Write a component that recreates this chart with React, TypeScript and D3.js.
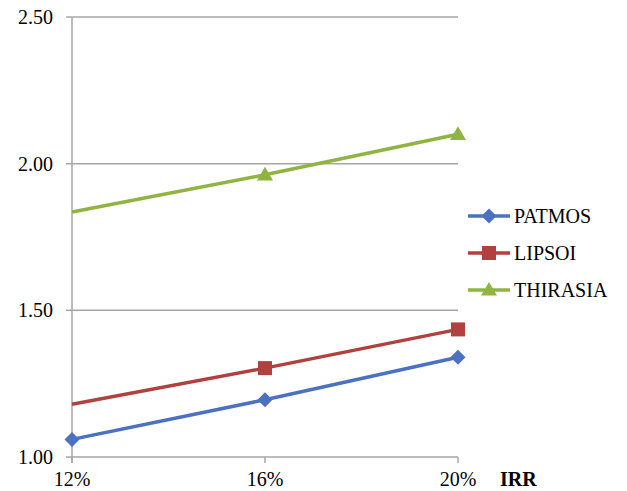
import React from "react";
import * as d3 from "d3";

const categories = ["12%", "16%", "20%"];
const yTicks = [1.0, 1.5, 2.0, 2.5];
const seriesNames = ["PATMOS", "LIPSOI", "THIRASIA"];
const patmos = [1.06, 1.195, 1.34];
const lipsoi = [1.18, 1.303, 1.435];
const thirasia = [1.835, 1.962, 2.1];
const colors = ["#4a72c0", "#b0413e", "#8fb442"];
const markers = ["diamond", "square", "triangle"];
const showMarker = [[true, true, true], [false, true, true], [false, true, true]];

function Marker({ type, x, y, color }: { type: string; x: number; y: number; color: string }) {
  if (type === "diamond") {
    const s = 7.5;
    return <path d={`M${x},${y - s}L${x + s},${y}L${x},${y + s}L${x - s},${y}Z`} fill={color} />;
  }
  if (type === "square") {
    const s = 7;
    return <rect x={x - s} y={y - s} width={2 * s} height={2 * s} fill={color} />;
  }
  const s = 8;
  return <path d={`M${x},${y - s}L${x + s},${y + s * 0.7}L${x - s},${y + s * 0.7}Z`} fill={color} />;
}

export default function App() {
  const W = 627, H = 491;
  const x0 = 72, x1 = 458;
  const x = d3.scalePoint<string>().domain(categories).range([x0, x1]);
  const y = d3.scaleLinear().domain([1, 2.5]).range([457, 17]);
  const data = [patmos, lipsoi, thirasia];
  const line = d3.line<number>().x((_, i) => x(categories[i])!).y((d) => y(d));
  const font = "'Liberation Serif'";
  const grid = "#a6a6a6";
  return (
    <svg width={W} height={H} style={{ position: "absolute", left: 0, top: 0 }}>
      <rect width={W} height={H} fill="#fff" />
      {yTicks.map((t) => (
        <g key={t}>
          <line x1={x0 - 6} x2={x1} y1={y(t)} y2={y(t)} stroke={grid} strokeWidth={1.5} />
          <text x={53} y={y(t) + 7} fontSize={20} textAnchor="end" fill="#000" fontFamily={font}>
            {t.toFixed(2)}
          </text>
        </g>
      ))}
      <line x1={x0} x2={x0} y1={y(2.5)} y2={y(1) + 6} stroke={grid} strokeWidth={1.5} />
      {categories.map((c) => (
        <g key={c}>
          <line x1={x(c)} x2={x(c)} y1={y(1)} y2={y(1) + 6} stroke={grid} strokeWidth={1.5} />
          <text x={x(c)} y={486} fontSize={20} textAnchor="middle" fill="#000" fontFamily={font}>
            {c}
          </text>
        </g>
      ))}
      <text x={500} y={486} fontSize={20} fontWeight="bold" fill="#000" fontFamily={font}>IRR</text>
      {data.map((s, si) => (
        <g key={si}>
          <path d={line(s) || ""} fill="none" stroke={colors[si]} strokeWidth={3.5} />
          {s.map((v, i) =>
            showMarker[si][i] ? (
              <Marker key={i} type={markers[si]} x={x(categories[i])!} y={y(v)} color={colors[si]} />
            ) : null
          )}
        </g>
      ))}
      {seriesNames.map((n, i) => {
        const ly = 216 + i * 37;
        return (
          <g key={n}>
            <line x1={468} x2={510} y1={ly} y2={ly} stroke={colors[i]} strokeWidth={3.5} />
            <Marker type={markers[i]} x={489} y={ly} color={colors[i]} />
            <text x={514} y={ly + 7} fontSize={20} fill="#000" fontFamily={font}>{n}</text>
          </g>
        );
      })}
    </svg>
  );
}
